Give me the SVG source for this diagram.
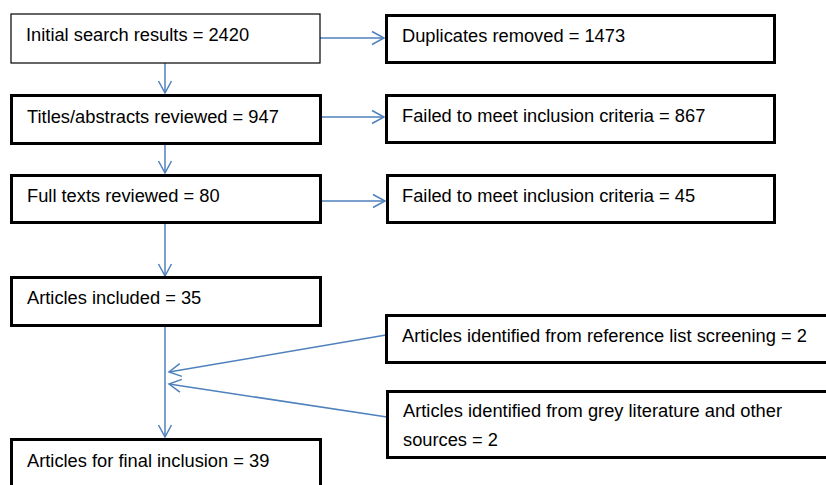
<svg xmlns="http://www.w3.org/2000/svg" width="826" height="485" viewBox="0 0 826 485">
<defs>
<style>
.box{fill:#fff;stroke:#000;stroke-width:3}
.thin{stroke-width:1.2}
.t{font-family:"Liberation Sans",Arial,sans-serif;font-size:18.3px;fill:#000}
.c{stroke:#4f81bd;stroke-width:1.5;fill:none}
</style>
<marker id="ah" markerUnits="userSpaceOnUse" markerWidth="16" markerHeight="16" viewBox="-14 -8 16 16" refX="0" refY="0" orient="auto">
<path d="M-12,-6.5 L0,0 L-12,6.5" fill="none" stroke="#4f81bd" stroke-width="1.5"/>
</marker>
</defs>
<g id="connectors">
<line class="c" x1="320" y1="38" x2="384" y2="38" marker-end="url(#ah)"/>
<line class="c" x1="320" y1="117" x2="384" y2="117" marker-end="url(#ah)"/>
<line class="c" x1="321" y1="201" x2="385" y2="201" marker-end="url(#ah)"/>
<line class="c" x1="165" y1="63" x2="165" y2="93" marker-end="url(#ah)"/>
<line class="c" x1="165" y1="145" x2="165" y2="173" marker-end="url(#ah)"/>
<line class="c" x1="165" y1="223" x2="165" y2="276" marker-end="url(#ah)"/>
<line class="c" x1="165" y1="326" x2="165" y2="437" marker-end="url(#ah)"/>
<line class="c" x1="386" y1="335" x2="169" y2="372" marker-end="url(#ah)"/>
<line class="c" x1="387" y1="417" x2="169" y2="384" marker-end="url(#ah)"/>
</g>
<g id="n1"><rect class="box thin" x="11" y="14" width="309" height="49"/><text class="t" x="26" y="41">Initial search results = 2420</text></g>
<g id="n2"><rect class="box" x="386.5" y="15.5" width="388" height="47"/><text class="t" x="402" y="42">Duplicates removed = 1473</text></g>
<g id="n3"><rect class="box" x="11.5" y="95.5" width="309" height="48"/><text class="t" x="27" y="123">Titles/abstracts reviewed = 947</text></g>
<g id="n4"><rect class="box" x="386.5" y="95.5" width="388" height="47"/><text class="t" x="402" y="122">Failed to meet inclusion criteria = 867</text></g>
<g id="n5"><rect class="box" x="11.5" y="175.5" width="309" height="47"/><text class="t" x="27" y="202">Full texts reviewed = 80</text></g>
<g id="n6"><rect class="box" x="387.5" y="175.5" width="387" height="47"/><text class="t" x="402" y="202">Failed to meet inclusion criteria = 45</text></g>
<g id="n7"><rect class="box" x="11.5" y="277.5" width="309" height="48"/><text class="t" x="27" y="304">Articles included = 35</text></g>
<g id="n8"><rect class="box" x="386.5" y="315.5" width="450" height="47"/><text class="t" x="402" y="342">Articles identified from reference list screening = 2</text></g>
<g id="n9"><rect class="box" x="387.5" y="391.5" width="450" height="66"/><text class="t" x="403" y="417">Articles identified from grey literature and other</text><text class="t" x="403" y="446">sources = 2</text></g>
<g id="n10"><rect class="box" x="11.5" y="439.5" width="309" height="60"/><text class="t" x="27" y="467">Articles for final inclusion = 39</text></g>
</svg>
